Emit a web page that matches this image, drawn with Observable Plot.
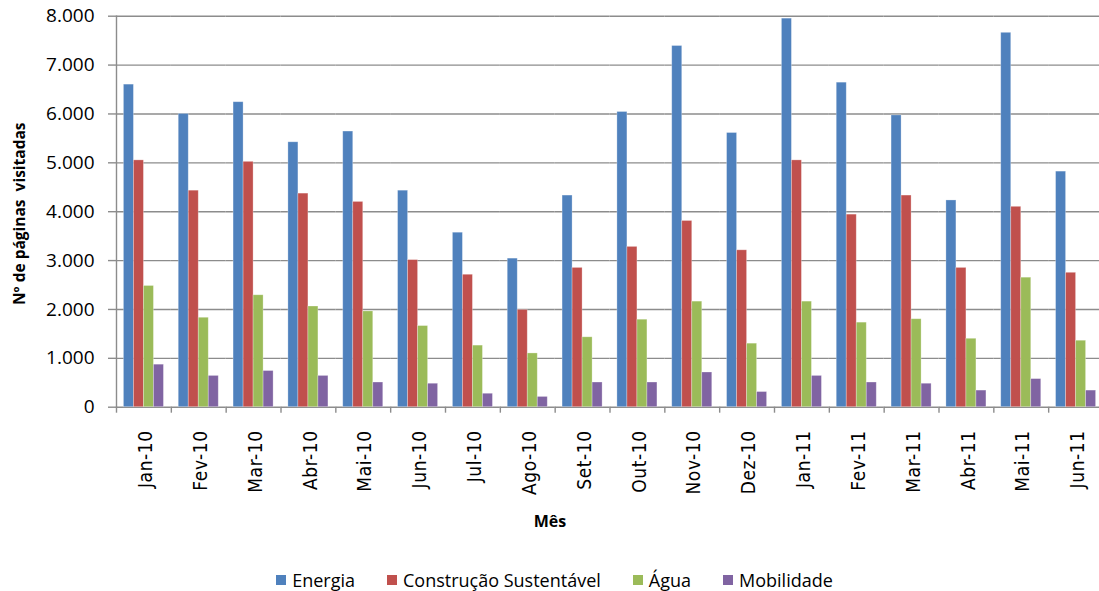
<!DOCTYPE html>
<html><head><meta charset="utf-8">
<script src="https://cdn.jsdelivr.net/npm/d3@7"></script>
<script src="https://cdn.jsdelivr.net/npm/@observablehq/plot@0.6"></script>
<style>
body{margin:0;background:#fff;}
#wrap{width:1099px;height:591px;overflow:hidden;position:relative;background:#fff;}
#legend{display:flex;justify-content:center;align-items:center;gap:32px;font-family:"Open Sans",sans-serif;font-size:18px;color:#000;margin-top:28px;height:24px;line-height:24px;padding-left:10px;}
.item{display:flex;align-items:center;}
.sw{width:10px;height:10px;margin-right:6px;}
#wrap g[aria-label="fx-axis tick label"]{letter-spacing:0.6px;}
</style></head>
<body><div id="wrap"><div id="chart"></div><div id="legend"></div></div>
<script>
const months = ["Jan-10","Fev-10","Mar-10","Abr-10","Mai-10","Jun-10","Jul-10","Ago-10","Set-10","Out-10","Nov-10","Dez-10","Jan-11","Fev-11","Mar-11","Abr-11","Mai-11","Jun-11"];
const series = ["Energia","Construção Sustentável","Água","Mobilidade"];
const colors = ["#4F81BD","#C0504D","#9BBB59","#8064A2"];
const energia     = [6600,6000,6240,5420,5640,4430,3570,3040,4330,6040,7390,5610,7950,6640,5970,4230,7660,4820];
const construcao  = [5050,4430,5020,4370,4200,3010,2710,1990,2850,3280,3810,3210,5050,3940,4330,2850,4100,2750];
const agua        = [2480,1830,2290,2060,1960,1660,1260,1100,1430,1790,2160,1300,2160,1730,1800,1400,2650,1360];
const mobilidade  = [870,640,740,640,505,480,275,210,505,505,710,310,640,505,480,340,575,340];
const yTicks = [0,1000,2000,3000,4000,5000,6000,7000,8000];
const yLabel = "Nº de páginas  visitadas";
const xLabel = "Mês";

const valuesBySeries = [energia, construcao, agua, mobilidade];
const data = [];
months.forEach((m, i) => series.forEach((s, j) => data.push({month: m, series: s, value: valuesBySeries[j][i]})));

const W = 1103, H = 540, mL = 116, mR = 0, mT = 15.7, mB = 133.3;
const step = (W - mL - mR) / months.length;
const fmt = d => d3.format(",")(d).replace(/,/g, ".");

const chart = Plot.plot({
  width: W, height: H,
  marginLeft: mL, marginRight: mR, marginTop: mT, marginBottom: mB,
  style: {maxWidth: "none", background: "#fff", overflow: "hidden"},
  fx: {domain: months, paddingInner: 0, paddingOuter: 0, round: false},
  x: {domain: series, paddingInner: 0, paddingOuter: 0.74, round: false, axis: null},
  y: {domain: [0, 8000]},
  color: {domain: series, range: colors},
  marks: [
    Plot.gridY(yTicks, {stroke: "#8c8c8c", strokeOpacity: 1, strokeWidth: 1.4}),
    Plot.barY(data, {fx: "month", x: "series", y: "value", fill: "series", stroke: "#ffffff", strokeOpacity: 0.35, strokeWidth: 0.8}),
    Plot.frame({anchor: "left", stroke: "#8c8c8c", strokeWidth: 1.4, facet: "super"}),
    Plot.axisY({ticks: yTicks, tickSize: 8, tickPadding: 14, tickFormat: fmt, label: null,
      stroke: "#8c8c8c", strokeWidth: 1.4, strokeOpacity: 1, fontSize: 19, fontFamily: "Open Sans"}),
    Plot.axisFx({anchor: "bottom", tickSize: 0, tickPadding: 23, tickRotate: -90, label: null, dx: 2,
      fontSize: 19, fontFamily: "'Liberation Sans Narrow', 'DejaVu Sans Condensed', 'Liberation Sans'"}),
    Plot.axisFx({anchor: "bottom", tickSize: 6, tickFormat: () => "", label: null, dx: -step / 2,
      stroke: "#8c8c8c", strokeWidth: 1.4, strokeOpacity: 1}),
    Plot.text([yLabel], {text: d => d, frameAnchor: "left", textAnchor: "middle", rotate: -90, dx: -96, dy: 2,
      fontWeight: "bold", fontSize: 15.5, fontFamily: "Open Sans", facet: "super"}),
    Plot.text([xLabel], {text: d => d, frameAnchor: "bottom", dy: 120, dx: -60,
      fontWeight: "bold", fontSize: 16, fontFamily: "Open Sans", facet: "super"})
  ]
});
document.getElementById("chart").appendChild(chart);

const legend = document.getElementById("legend");
series.forEach((s, i) => {
  const it = document.createElement("div"); it.className = "item";
  const sw = document.createElement("span"); sw.className = "sw"; sw.style.background = colors[i];
  const t = document.createElement("span"); t.textContent = s;
  it.appendChild(sw); it.appendChild(t); legend.appendChild(it);
});
</script></body></html>
